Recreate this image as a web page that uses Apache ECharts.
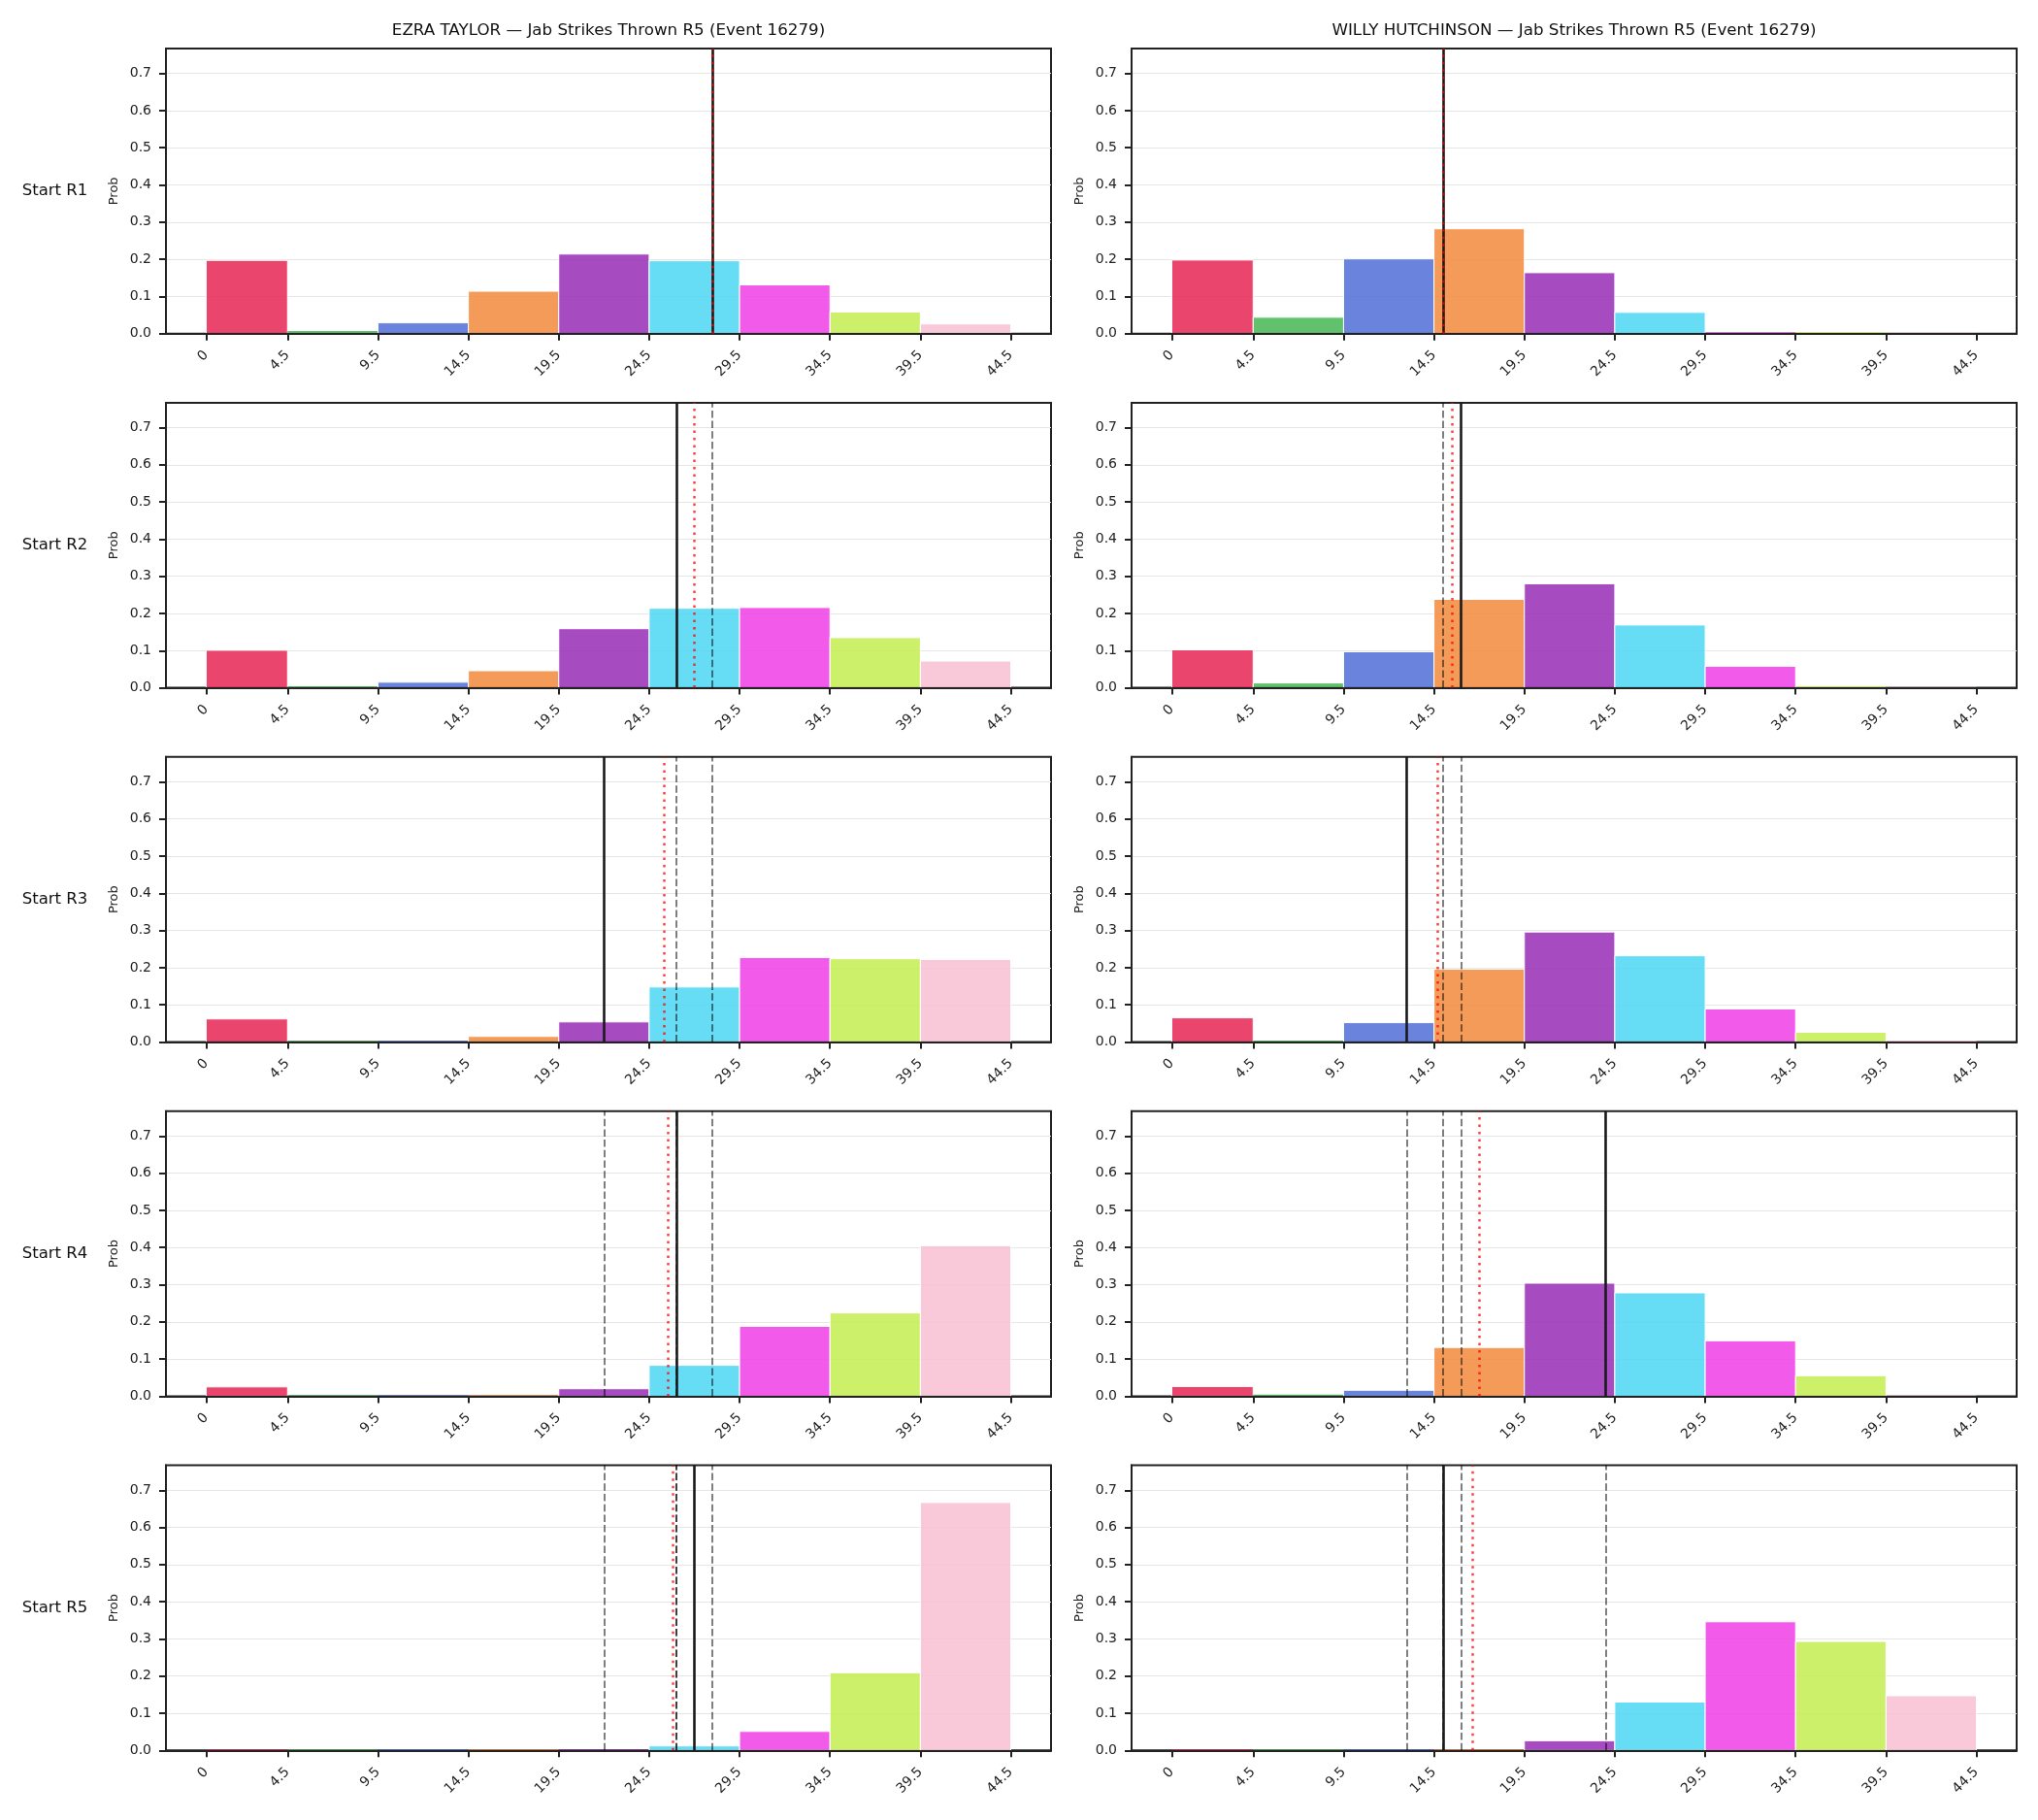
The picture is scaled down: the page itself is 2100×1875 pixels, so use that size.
<!DOCTYPE html>
<html>
<head>
<meta charset="utf-8">
<title>Jab Strikes Thrown R5 (Event 16279)</title>
<script src="https://cdn.jsdelivr.net/npm/echarts@6/dist/echarts.min.js"></script>
<style>
  html, body { margin: 0; padding: 0; background: #fff; }
  #chart { width: 2100px; height: 1875px; }
</style>
</head>
<body>
<div id="chart"></div>
<script>
// bin edges (jab strikes) and tick labels
const binEdges = [0, 4.5, 9.5, 14.5, 19.5, 24.5, 29.5, 34.5, 39.5, 44.5];
const yTicks = [0, 0.1, 0.2, 0.3, 0.4, 0.5, 0.6, 0.7];
const yMax = 0.767;
const fighters = ["EZRA TAYLOR", "WILLY HUTCHINSON"];
const rowLabels = ["Start R1", "Start R2", "Start R3", "Start R4", "Start R5"];

// probability per bin, by starting round
const taylorR1 = [0.197, 0.007, 0.029, 0.114, 0.214, 0.196, 0.131, 0.058, 0.026];
const taylorR2 = [0.101, 0.004, 0.015, 0.046, 0.159, 0.214, 0.216, 0.135, 0.072];
const taylorR3 = [0.062, 0.003, 0.003, 0.015, 0.054, 0.148, 0.227, 0.224, 0.222];
const taylorR4 = [0.025, 0.003, 0.003, 0.003, 0.020, 0.083, 0.188, 0.224, 0.405];
const taylorR5 = [0.003, 0.003, 0.003, 0.003, 0.003, 0.012, 0.051, 0.209, 0.667];
const willyR1 = [0.198, 0.044, 0.201, 0.282, 0.164, 0.057, 0.004, 0.004, 0.003];
const willyR2 = [0.102, 0.013, 0.097, 0.238, 0.280, 0.169, 0.058, 0.004, 0.003];
const willyR3 = [0.065, 0.004, 0.052, 0.196, 0.296, 0.232, 0.089, 0.026, 0.004];
const willyR4 = [0.026, 0.004, 0.016, 0.131, 0.304, 0.278, 0.149, 0.055, 0.003];
const willyR5 = [0.003, 0.003, 0.003, 0.003, 0.026, 0.130, 0.346, 0.293, 0.147];

// vertical markers: solid = line for that row, dotted = mean
const taylorLine = [28, 26, 22, 26, 27];
const taylorMean = [28.0, 27.0, 25.33, 25.55, 25.79];
const willyLine = [15, 16, 13, 24, 15];
const willyMean = [15.0, 15.5, 14.7, 17.0, 16.65];

const binColors = [
  "rgba(230,38,84,0.85)", "rgba(70,182,84,0.85)", "rgba(80,110,216,0.85)",
  "rgba(243,138,61,0.85)", "rgba(150,44,181,0.85)", "rgba(75,214,243,0.85)",
  "rgba(240,61,230,0.85)", "rgba(196,237,81,0.85)", "rgba(248,191,210,0.85)"
];

const probs = [
  [taylorR1, taylorR2, taylorR3, taylorR4, taylorR5],
  [willyR1, willyR2, willyR3, willyR4, willyR5]
];
const lines = [taylorLine, willyLine];
const means = [taylorMean, willyMean];

const FONT = "DejaVu Sans";
const INK = "#222";
const gridLeft = [171, 1166];
const gridWidth = 912;
const rowTop = 50, rowPitch = 364.9, rowHeight = 293.7;

const span = binEdges[binEdges.length - 1] - binEdges[0];
const xMin = binEdges[0] - 0.05 * span;
const xMax = binEdges[binEdges.length - 1] + 0.05 * span;

const grid = [], xAxis = [], yAxis = [], series = [], graphic = [];

for (let r = 0; r < 5; r++) {
  for (let f = 0; f < 2; f++) {
    const idx = r * 2 + f;
    grid.push({
      left: gridLeft[f], top: rowTop + r * rowPitch,
      width: gridWidth, height: rowHeight,
      show: true, borderColor: INK, borderWidth: 2, backgroundColor: "transparent"
    });
    xAxis.push({
      type: "value", gridIndex: idx, min: xMin, max: xMax, z: 3,
      splitLine: { show: false },
      axisLine: { onZero: false, lineStyle: { color: INK, width: 2 } },
      axisTick: { customValues: binEdges, length: 7, lineStyle: { color: INK, width: 2 } },
      axisLabel: {
        customValues: binEdges, rotate: 45, margin: 20,
        fontFamily: FONT, fontSize: 14, color: INK,
        formatter: (v) => (v === 0 ? "0" : String(v))
      }
    });
    yAxis.push({
      type: "value", gridIndex: idx, min: 0, max: yMax, interval: 0.1,
      name: "Prob", nameLocation: "middle", nameGap: 47,
      nameTextStyle: { fontFamily: FONT, fontSize: 13, color: INK },
      splitLine: { lineStyle: { color: "#e6e6e6", width: 1.2 } },
      axisLine: { show: true, onZero: false, lineStyle: { color: INK, width: 2 } },
      axisTick: { show: true, customValues: yTicks, length: 7, lineStyle: { color: INK, width: 2 } },
      axisLabel: {
        customValues: yTicks, margin: 15,
        fontFamily: FONT, fontSize: 14, color: INK,
        formatter: (v) => v.toFixed(1)
      }
    });

    const rowProbs = probs[f][r];
    const data = rowProbs.map((p, i) => [binEdges[i], binEdges[i + 1], p, i]);

    // previous rows' lines (dashed), this row's line (solid), mean (dotted)
    const marks = [];
    for (let k = 0; k < r; k++) {
      marks.push({
        xAxis: lines[f][k],
        lineStyle: { color: "rgba(0,0,0,0.5)", width: 2, type: [7.5, 3.2] }
      });
    }
    marks.push({ xAxis: lines[f][r], lineStyle: { color: "#1a1a1a", width: 2.6, type: "solid" } });
    marks.push({ xAxis: means[f][r], lineStyle: { color: "rgba(255,0,0,0.75)", width: 2.5, type: [2.5, 5] } });

    series.push({
      type: "custom",
      xAxisIndex: idx, yAxisIndex: idx,
      encode: { x: [0, 1], y: 2 },
      data: data,
      renderItem: (params, api) => {
        const p0 = api.coord([api.value(0), api.value(2)]);
        const p1 = api.coord([api.value(1), 0]);
        const h = p1[1] - p0[1];
        return {
          type: "rect",
          shape: { x: p0[0], y: p0[1], width: p1[0] - p0[0], height: h },
          style: {
            fill: binColors[api.value(3)],
            stroke: h > 3 ? "#fff" : null,
            lineWidth: 1
          }
        };
      },
      markLine: {
        silent: true, symbol: "none", animation: false,
        label: { show: false },
        data: marks
      }
    });
  }

  graphic.push({
    type: "text", x: 56.5, y: rowTop + r * rowPitch + rowHeight / 2,
    style: {
      text: rowLabels[r], fontFamily: FONT, fontSize: 16.5, fill: "#111",
      align: "center", verticalAlign: "middle"
    }
  });
}

fighters.forEach((name, f) => {
  graphic.push({
    type: "text", x: gridLeft[f] + gridWidth / 2, y: 31.5,
    style: {
      text: name + " \u2014 Jab Strikes Thrown R5 (Event 16279)",
      fontFamily: FONT, fontSize: 16.7, fill: "#111",
      align: "center", verticalAlign: "middle"
    }
  });
});

const chart = echarts.init(document.getElementById("chart"));
chart.setOption({
  animation: false,
  backgroundColor: "#fff",
  grid, xAxis, yAxis, series, graphic
});
</script>
</body>
</html>
